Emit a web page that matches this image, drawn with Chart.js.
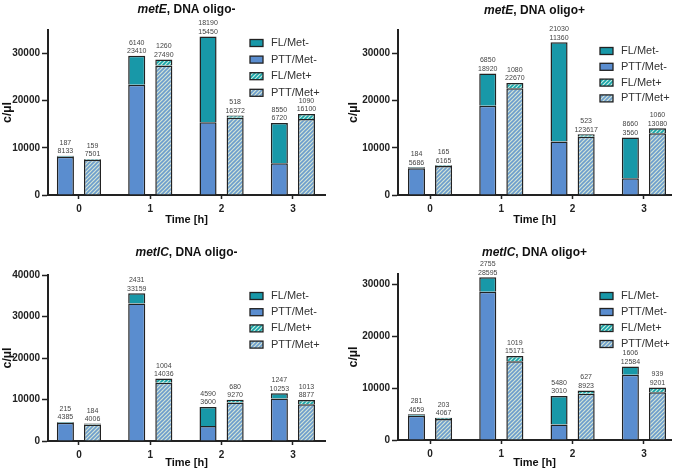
<!DOCTYPE html>
<html>
<head>
<meta charset="utf-8">
<script src="https://cdn.jsdelivr.net/npm/chart.js@4.4.0/dist/chart.umd.min.js"></script>
<style>
  body { margin: 0; background: #fff; width: 677px; height: 470px; position: relative; overflow: hidden; }
  canvas { position: absolute; }
</style>
</head>
<body>
<canvas id="p1" width="338" height="235" style="left:0;top:0"></canvas>
<canvas id="p2" width="339" height="235" style="left:338px;top:0"></canvas>
<canvas id="p3" width="338" height="235" style="left:0;top:235px"></canvas>
<canvas id="p4" width="339" height="235" style="left:338px;top:235px"></canvas>
<script>
const timePoints = ['0', '1', '2', '3'];
const seriesNames = ['FL/Met-', 'PTT/Met-', 'FL/Met+', 'PTT/Met+'];

// metE, DNA oligo-
const metEminus_flMetMinus = [187, 6140, 18190, 8550];
const metEminus_pttMetMinus = [8133, 23410, 15450, 6720];
const metEminus_flMetPlus = [159, 1260, 518, 1090];
const metEminus_pttMetPlus = [7501, 27490, 16372, 16100];

// metE, DNA oligo+
const metEplus_flMetMinus = [184, 6850, 21030, 8660];
const metEplus_pttMetMinus = [5686, 18920, 11360, 3560];
const metEplus_flMetPlus = [165, 1080, 523, 1060];
const metEplus_pttMetPlus = [6165, 22670, 12362, 13080];
// the figure prints "123617" above the 2 h bar
const metEplus_pttMetPlusText = ['6165', '22670', '123617', '13080'];

// metIC, DNA oligo-
const metICminus_flMetMinus = [215, 2431, 4590, 1247];
const metICminus_pttMetMinus = [4385, 33159, 3600, 10253];
const metICminus_flMetPlus = [184, 1004, 680, 1013];
const metICminus_pttMetPlus = [4006, 14036, 9270, 8877];

// metIC, DNA oligo+
const metICplus_flMetMinus = [281, 2755, 5480, 1606];
const metICplus_pttMetMinus = [4659, 28595, 3010, 12584];
const metICplus_flMetPlus = [203, 1019, 627, 939];
const metICplus_pttMetPlus = [4067, 15171, 8923, 9201];

const yTicksTo30k = [0, 10000, 20000, 30000];
const yTicksTo40k = [0, 10000, 20000, 30000, 40000];

const FONT = "'Liberation Sans', Arial, sans-serif";
Chart.defaults.font.family = FONT;
Chart.defaults.color = '#222';

function hatch(line, back) {
  const c = document.createElement('canvas');
  c.width = c.height = 4;
  const g = c.getContext('2d');
  g.fillStyle = back;
  g.fillRect(0, 0, 4, 4);
  g.strokeStyle = line;
  g.lineWidth = 1.6;
  g.beginPath();
  g.moveTo(-1, 5); g.lineTo(5, -1);
  g.moveTo(-1, 1); g.lineTo(1, -1);
  g.moveTo(3, 5); g.lineTo(5, 3);
  g.stroke();
  return g.createPattern(c, 'repeat');
}

const colFlMinus = '#1898a8';
const colPttMinus = '#5a8dcf';
const colFlPlus = hatch('#16a4a8', '#c4ebe2');
const colPttPlus = hatch('#6c9dcd', '#d3e4d6');
const fills = [colFlMinus, colPttMinus, colFlPlus, colPttPlus];

// titles, legend and value labels
const deco = {
  id: 'deco',
  afterDatasetsDraw(chart, args, o) {
    const ctx = chart.ctx;
    const area = chart.chartArea;
    ctx.save();

    // title: italic gene name + rest
    ctx.textBaseline = 'middle';
    ctx.font = 'italic bold 12px ' + FONT;
    const w1 = ctx.measureText(o.gene).width;
    ctx.font = 'bold 12px ' + FONT;
    const w2 = ctx.measureText(o.rest).width;
    let tx = (area.left + area.right) / 2 - (w1 + w2) / 2;
    ctx.fillStyle = '#111';
    ctx.textAlign = 'left';
    ctx.font = 'italic bold 12px ' + FONT;
    ctx.fillText(o.gene, tx, o.titleY);
    ctx.font = 'bold 12px ' + FONT;
    ctx.fillText(o.rest, tx + w1, o.titleY);

    // legend
    ctx.font = '11px ' + FONT;
    seriesNames.forEach((name, i) => {
      const y = o.legendY + i * o.legendGap;
      ctx.fillStyle = fills[i];
      ctx.fillRect(o.legendX, y - 3.5, 13, 7);
      ctx.strokeStyle = '#222';
      ctx.lineWidth = 1.3;
      ctx.strokeRect(o.legendX, y - 3.5, 13, 7);
      ctx.fillStyle = '#333';
      ctx.fillText(name, o.legendX + 21, y);
    });

    // value labels above each stack: FL on top, PTT below
    ctx.font = '7px ' + FONT;
    ctx.fillStyle = '#444';
    ctx.textAlign = 'center';
    [[1, 0], [3, 1]].forEach(([topDs, k]) => {
      const meta = chart.getDatasetMeta(topDs);
      meta.data.forEach((el, i) => {
        ctx.fillText(o.texts[k][1][i], el.x, el.y - 4.5);
        ctx.fillText(o.texts[k][0][i], el.x, el.y - 13);
      });
    });
    ctx.restore();
  }
};

function makePanel(id, p) {
  const canvas = document.getElementById(id);
  const ds = (label, data, stack, bg) => ({
    label, data, stack, backgroundColor: bg,
    borderColor: '#222', borderWidth: 1.5,
    barPercentage: 0.63, categoryPercentage: 0.76
  });
  new Chart(canvas, {
    type: 'bar',
    data: {
      labels: timePoints,
      datasets: [
        ds('PTT/Met-', p.pttMinus, 'minus', colPttMinus),
        ds('FL/Met-', p.flMinus, 'minus', colFlMinus),
        ds('PTT/Met+', p.pttPlus, 'plus', colPttPlus),
        ds('FL/Met+', p.flPlus, 'plus', colFlPlus)
      ]
    },
    options: {
      responsive: false,
      animation: false,
      layout: { padding: { top: p.top, right: canvas.width - p.right, left: 0, bottom: 0 } },
      plugins: {
        legend: { display: false },
        tooltip: { enabled: false },
        deco: {
          gene: p.gene, rest: p.rest, titleY: p.titleY,
          legendX: p.legendX, legendY: p.legendY, legendGap: p.legendGap,
          texts: [
            [p.flMinus.map(String), p.pttMinus.map(String)],
            [p.flPlus.map(String), p.pttPlusText || p.pttPlus.map(String)]
          ]
        }
      },
      scales: {
        x: {
          type: 'linear',
          stacked: true,
          offset: false,
          min: p.xMin, max: p.xMax,
          afterBuildTicks: s => { s.ticks = timePoints.map(t => ({ value: +t })); },
          afterFit: s => { s.height = canvas.height - p.bottom; },
          ticks: { font: { size: 10, weight: 'bold' }, padding: 4, color: '#222',
                   callback: v => timePoints[v] },
          grid: { offset: false, drawOnChartArea: false, tickLength: 4, tickColor: '#222', tickWidth: 1.5 },
          border: { color: '#222', width: 2 },
          title: { display: true, text: 'Time [h]', font: { size: 11, weight: 'bold' },
                   color: '#111', padding: { top: 0, bottom: p.xTitlePad } }
        },
        y: {
          stacked: true,
          min: 0, max: p.yMax,
          afterBuildTicks: s => { s.ticks = p.yTicks.map(v => ({ value: v })); },
          afterFit: s => { s.width = p.left; },
          ticks: { font: { size: 10, weight: 'bold' }, padding: 2, color: '#222',
                   callback: v => String(v) },
          grid: { drawOnChartArea: false, tickLength: 6, tickColor: '#222', tickWidth: 1.5 },
          border: { color: '#222', width: 2 },
          title: { display: true, text: 'c/µl', font: { size: 12.5, weight: 'bold' },
                   color: '#111', padding: { top: p.yTitlePad, bottom: 0 } }
        }
      }
    },
    plugins: [deco]
  });
}

makePanel('p1', {
  gene: 'metE', rest: ', DNA oligo-', titleY: 10,
  flMinus: metEminus_flMetMinus, pttMinus: metEminus_pttMetMinus,
  flPlus: metEminus_flMetPlus, pttPlus: metEminus_pttMetPlus,
  top: 30, bottom: 195, left: 48, right: 325, xMin: -0.434, xMax: 3.45,
  yMax: 35000, yTicks: yTicksTo30k, xTitlePad: 8.4, yTitlePad: 0,
  legendX: 250, legendY: 43, legendGap: 16.6
});

makePanel('p2', {
  gene: 'metE', rest: ', DNA oligo+', titleY: 11,
  flMinus: metEplus_flMetMinus, pttMinus: metEplus_pttMetMinus,
  flPlus: metEplus_flMetPlus, pttPlus: metEplus_pttMetPlus, pttPlusText: metEplus_pttMetPlusText,
  top: 30, bottom: 195, left: 60, right: 333, xMin: -0.449, xMax: 3.38,
  yMax: 35000, yTicks: yTicksTo30k, xTitlePad: 8.4, yTitlePad: 8,
  legendX: 262, legendY: 51, legendGap: 15.8
});

makePanel('p3', {
  gene: 'metIC', rest: ', DNA oligo-', titleY: 18,
  flMinus: metICminus_flMetMinus, pttMinus: metICminus_pttMetMinus,
  flPlus: metICminus_flMetPlus, pttPlus: metICminus_pttMetPlus,
  top: 40, bottom: 206, left: 48, right: 325, xMin: -0.434, xMax: 3.45,
  yMax: 40000, yTicks: yTicksTo40k, xTitlePad: 0, yTitlePad: 0,
  legendX: 250, legendY: 61, legendGap: 16.2
});

makePanel('p4', {
  gene: 'metIC', rest: ', DNA oligo+', titleY: 18,
  flMinus: metICplus_flMetMinus, pttMinus: metICplus_pttMetMinus,
  flPlus: metICplus_flMetPlus, pttPlus: metICplus_pttMetPlus,
  top: 39, bottom: 205, left: 60, right: 333, xMin: -0.449, xMax: 3.38,
  yMax: 32000, yTicks: yTicksTo30k, xTitlePad: 0, yTitlePad: 8,
  legendX: 262, legendY: 61, legendGap: 16
});
</script>
</body>
</html>
